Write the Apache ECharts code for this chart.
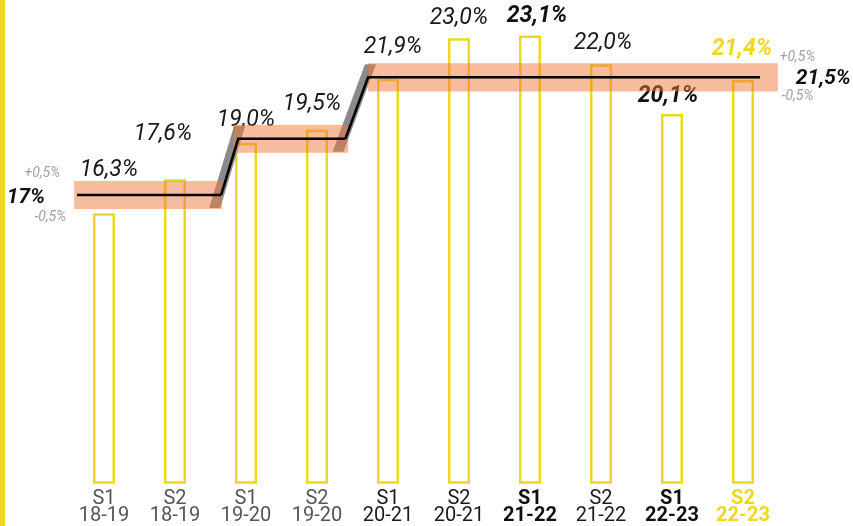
<!DOCTYPE html>
<html><head><meta charset="utf-8">
<script src="https://cdn.jsdelivr.net/npm/echarts@6/dist/echarts.min.js"></script>
<style>html,body{margin:0;padding:0;background:#fff}#c{width:853px;height:526px}</style>
</head><body><div id="c"></div>
<script>
// ---- data ----
const semesters = ['S1','S2','S1','S2','S1','S2','S1','S2','S1','S2'];
const years = ['18-19','18-19','19-20','19-20','20-21','20-21','21-22','21-22','22-23','22-23'];
const barValues = [16.3, 17.6, 19.0, 19.5, 21.45, 23.0, 23.1, 22.0, 20.1, 21.4];
const barLabels = ['16,3%','17,6%','19,0%','19,5%','21,9%','23,0%','23,1%','22,0%','20,1%','21,4%'];
const targetValues = [17, 19.15, 21.5];
const targetLabels = ['17%', '', '21,5%'];
const tolerance = 0.5;
const tolLabels = ['+0,5%', '-0,5%'];

// ---- layout / style ----
const bandSpans = [[-0.42, 1.66], [1.82, 3.44], [3.72, 9.49]];
const lineSpans = [[-0.38, 1.65], [1.89, 3.40], [3.72, 9.24]];
const labelOffsets = [[5,-31],[-12,-33],[0,-10],[-5,-13],[5,-19],[0,-8],[7,-7],[2,-9],[-4,-6],[-1,-19]];
const labelStyle = ['n','n','n','n','n','n','b','n','b','y'];
const axisStyle = ['g','g','g','g','k','k','b','k','b','y'];
const YEL = '#f0d722';
const FONT = 'Roboto';

const chart = echarts.init(document.getElementById('c'), null, {renderer: 'canvas'});

function lblStyle(s) {
  const base = {fontFamily: FONT, fontStyle: 'italic', fontSize: 23, lineHeight: 24, color: '#1a1a1a', fontWeight: 'normal'};
  if (s === 'b') { base.fontWeight = 'bold'; base.color = '#111'; }
  if (s === 'y') { base.fontWeight = 'bold'; base.color = YEL; }
  return base;
}

const barData = barValues.map((v, i) => ({
  value: v,
  label: Object.assign({offset: labelOffsets[i], formatter: barLabels[i]}, lblStyle(labelStyle[i]))
}));

function px(api, x, v) { return api.coord([x, v]); }

const axisFont = {fontSize: 20, lineHeight: 17, fontFamily: FONT};

const option = {
  animation: false,
  backgroundColor: '#fff',
  graphic: [{type: 'rect', left: 0, top: 0, shape: {width: 5, height: 526}, style: {fill: '#eed82a'}, z: 100}],
  grid: {left: 68.5, right: 74.5, top: 12, bottom: 42},
  xAxis: [{
    type: 'category',
    data: semesters.map((s, i) => s + ' ' + years[i]),
    axisLine: {show: false}, axisTick: {show: false},
    axisLabel: {
      margin: 8, interval: 0,
      formatter: (val, idx) => `{${axisStyle[idx]}|${semesters[idx]}}\n{${axisStyle[idx]}|${years[idx]}}`,
      rich: {
        g: Object.assign({color: '#555'}, axisFont),
        k: Object.assign({color: '#1a1a1a'}, axisFont),
        b: Object.assign({color: '#111', fontWeight: 'bold'}, axisFont),
        y: Object.assign({color: YEL, fontWeight: 'bold'}, axisFont)
      }
    }
  }, {
    type: 'value', min: -0.5, max: 9.5, show: false
  }],
  yAxis: {type: 'value', min: 6, max: 24, show: false, splitLine: {show: false}},
  series: [
    {
      type: 'bar', xAxisIndex: 0, data: barData, barWidth: 22, z: 2,
      itemStyle: {color: '#fff', borderColor: YEL, borderWidth: 2.5},
      label: {show: true, position: 'top', distance: 0}
    },
    { // connectors
      type: 'custom', xAxisIndex: 1, z: 3, silent: true,
      data: targetValues.map((v, i) => [i, v]),
      renderItem: (params, api) => {
        const i = api.value(0);
        if (i === 0) return null;
        const a = px(api, lineSpans[i-1][1], targetValues[i-1]);
        const b = px(api, lineSpans[i][0], targetValues[i]);
        const h = Math.abs(px(api, 0, 0)[1] - px(api, 0, tolerance)[1]);
        const dx = b[0] - a[0], dy = a[1] - b[1];
        const ext = h * dx / dy;
        const bot = [a[0] - ext, a[1] + h], top = [b[0] + ext, b[1] - h];
        return {type: 'polygon', shape: {points: [
          [bot[0] - 8, bot[1]], [bot[0] + 3, bot[1]], [top[0] + 3, top[1]], [top[0] - 8, top[1]]
        ]}, style: {fill: '#8a8a8a'}};
      }
    },
    { // bands
      type: 'custom', xAxisIndex: 1, z: 4, silent: true,
      data: targetValues.map((v, i) => [i, v]),
      renderItem: (params, api) => {
        const i = api.value(0), v = api.value(1);
        const p1 = px(api, bandSpans[i][0], v + tolerance);
        const p2 = px(api, bandSpans[i][1], v - tolerance);
        return {type: 'rect', shape: {x: p1[0], y: p1[1] - 1, width: p2[0] - p1[0], height: p2[1] - p1[1] + 2},
          style: {fill: 'rgba(240,120,60,0.5)'}};
      }
    },
    { // lines + target labels
      type: 'custom', xAxisIndex: 1, z: 5, silent: true,
      data: targetValues.map((v, i) => [i, v]),
      renderItem: (params, api) => {
        const i = api.value(0), v = api.value(1);
        const children = [];
        const s = px(api, lineSpans[i][0], v), e = px(api, lineSpans[i][1], v);
        const pts = [];
        if (i > 0) pts.push(px(api, lineSpans[i-1][1], targetValues[i-1]));
        pts.push(s, e);
        children.push({type: 'polyline', shape: {points: pts}, style: {stroke: '#000', lineWidth: 2.5, fill: null}});
        if (targetLabels[i]) {
          const bTop = px(api, 0, v + tolerance)[1], bBot = px(api, 0, v - tolerance)[1];
          const bs = px(api, bandSpans[i][0], v)[0], be = px(api, bandSpans[i][1], v)[0];
          const main = {fontFamily: FONT, fontStyle: 'italic', fontWeight: 'bold', fontSize: 21, fill: '#111', textVerticalAlign: 'middle'};
          const tol = {fontFamily: FONT, fontStyle: 'italic', fontSize: 14, fill: '#a0a0a0', textVerticalAlign: 'middle'};
          if (i === 0) {
            children.push({type: 'text', style: Object.assign({text: targetLabels[i], x: bs - 29, y: s[1] + 3, textAlign: 'right'}, main)});
            children.push({type: 'text', style: Object.assign({text: tolLabels[0], x: bs - 14, y: bTop - 8, textAlign: 'right'}, tol)});
            children.push({type: 'text', style: Object.assign({text: tolLabels[1], x: bs - 8, y: bBot + 9, textAlign: 'right'}, tol)});
          } else {
            children.push({type: 'text', style: Object.assign({text: targetLabels[i], x: be + 18, y: s[1] + 1, textAlign: 'left'}, main)});
            children.push({type: 'text', style: Object.assign({text: tolLabels[0], x: be + 2, y: bTop - 7, textAlign: 'left'}, tol)});
            children.push({type: 'text', style: Object.assign({text: tolLabels[1], x: be + 4, y: bBot + 6, textAlign: 'left'}, tol)});
          }
        }
        return {type: 'group', children};
      }
    }
  ]
};
chart.setOption(option);
</script>
</body></html>
